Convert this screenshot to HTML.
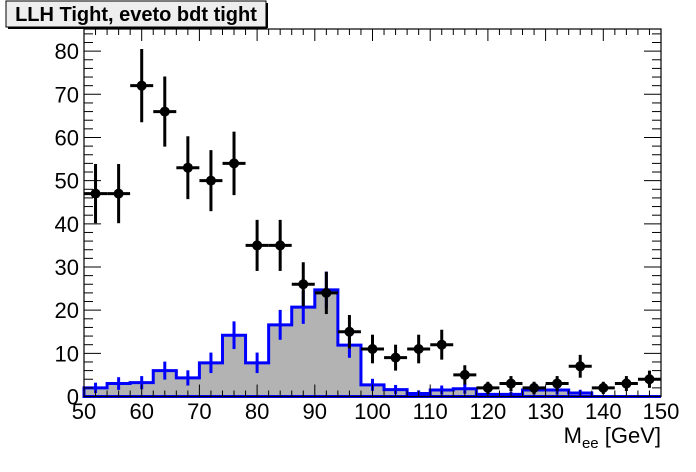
<!DOCTYPE html>
<html><head><meta charset="utf-8"><style>
html,body{margin:0;padding:0;background:#fff;}
svg{display:block;font-family:"Liberation Sans",Arial,sans-serif;}
</style></head><body>
<svg id="s" width="696" height="472" viewBox="0 0 696 472" xmlns="http://www.w3.org/2000/svg">
<rect width="696" height="472" fill="#fff"/>
<g id="g"></g>
<rect x="6" y="1" width="260" height="26" fill="#eeeeee" stroke="#000" stroke-width="1"/>
<line x1="8" y1="28" x2="267" y2="28" stroke="#000" stroke-width="2"/>
<line x1="267" y1="3" x2="267" y2="28" stroke="#000" stroke-width="2"/>
<text x="136" y="21" font-size="20" font-weight="bold" text-anchor="middle">LLH Tight, eveto bdt tight</text>
<text x="661" y="443" font-size="22" text-anchor="end">M<tspan font-size="15" dy="5">ee</tspan><tspan dy="-5"> [GeV]</tspan></text>
</svg>
<script>
var L=84,R=661,B=396.5,T=29,sx=5.77,sy=4.317;
function X(v){return L+(v-50)*sx}function Y(v){return B-v*sy}
var h='';
var mc=[2,3,3.2,6,4.3,7.8,14.2,7.8,16.6,20.7,24.7,11.9,2.7,1.6,0.7,1.5,1.8,0.5,0.5,1.5,1.5,0.8,0,0,0];
var dt=[47,47,72,66,53,50,54,35,35,26,24,15,11,9,11,12,5,2,3,2,3,7,2,3,4];
var p='M'+X(50)+' '+B;
for(var i=0;i<25;i++){p+=' L'+X(50+4*i)+' '+Y(mc[i])+' L'+X(54+4*i)+' '+Y(mc[i]);}
p+=' L'+X(150)+' '+B+' Z';
h+='<path d="'+p+'" fill="#b3b3b3" stroke="#0000ff" stroke-width="3"/>';
for(var i=0;i<22;i++){var e=Math.max(Math.sqrt(mc[i])*0.85,0.6);var cx=X(52+4*i);
h+='<line x1="'+cx+'" x2="'+cx+'" y1="'+Y(mc[i]+e)+'" y2="'+Y(Math.max(mc[i]-e,0))+'" stroke="#0000ff" stroke-width="3"/>';}
var ax='';
for(var v=50;v<=150;v+=2){var x=X(v),len=(v%10==0)?12:6;
ax+='<line x1="'+x+'" x2="'+x+'" y1="'+B+'" y2="'+(B-len)+'" stroke="#000"/>';
ax+='<line x1="'+x+'" x2="'+x+'" y1="'+T+'" y2="'+(T+len)+'" stroke="#000"/>';}
for(var v=0;v<=84;v+=2){var y=Y(v),len=(v%10==0)?17:9;
ax+='<line x1="'+L+'" x2="'+(L+len)+'" y1="'+y+'" y2="'+y+'" stroke="#000"/>';
ax+='<line x1="'+R+'" x2="'+(R-len)+'" y1="'+y+'" y2="'+y+'" stroke="#000"/>';}
h+=ax;
for(var i=0;i<25;i++){var cx=X(52+4*i),cy=Y(dt[i]),e=Math.sqrt(dt[i]);
h+='<line x1="'+cx+'" x2="'+cx+'" y1="'+Y(dt[i]+e)+'" y2="'+Y(Math.max(dt[i]-e,0))+'" stroke="#000" stroke-width="3"/>';
h+='<line x1="'+(cx-11.5)+'" x2="'+(cx+11.5)+'" y1="'+cy+'" y2="'+cy+'" stroke="#000" stroke-width="3"/>';
h+='<circle cx="'+cx+'" cy="'+cy+'" r="5" fill="#000"/>';}
h+='<rect x="'+L+'" y="'+T+'" width="'+(R-L)+'" height="'+(B-T)+'" fill="none" stroke="#000" stroke-width="1.2"/>';
for(var v=50;v<=150;v+=10)h+='<text x="'+X(v)+'" y="419" font-size="22" text-anchor="middle">'+v+'</text>';
for(var v=0;v<=80;v+=10)h+='<text x="79" y="'+(Y(v)+8)+'" font-size="22" text-anchor="end">'+v+'</text>';
document.getElementById('g').innerHTML=h;
</script>
</body></html>
